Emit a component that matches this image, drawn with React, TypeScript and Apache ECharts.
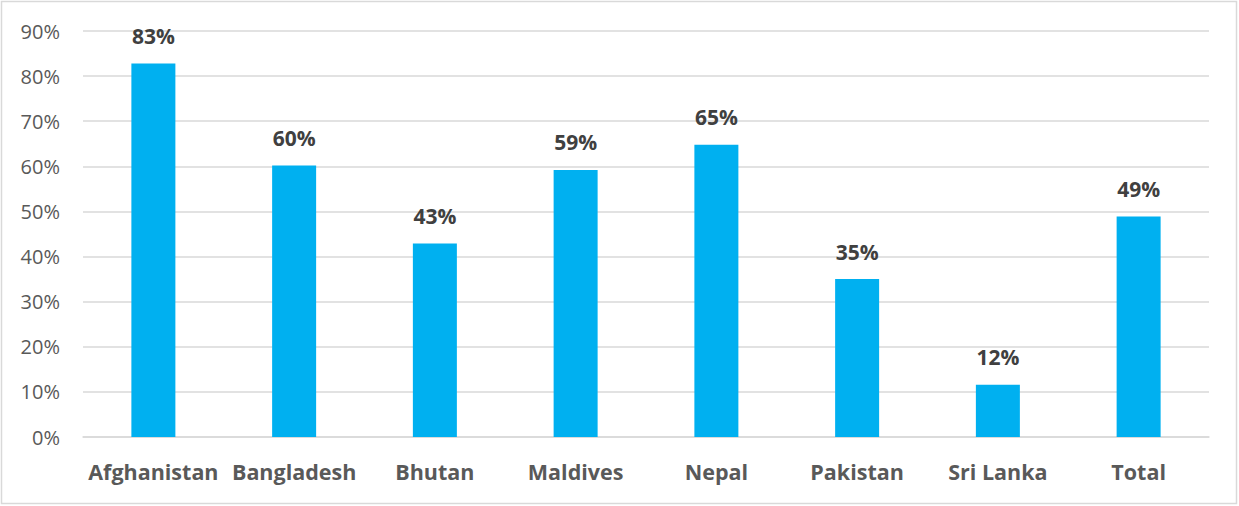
import React, { useEffect, useRef } from "react";
import * as echarts from "echarts";

const categories = ["Afghanistan", "Bangladesh", "Bhutan", "Maldives", "Nepal", "Pakistan", "Sri Lanka", "Total"];
const values = [82.8, 60.2, 42.9, 59.2, 64.8, 35.0, 11.6, 48.9];
const yTicks = [0, 10, 20, 30, 40, 50, 60, 70, 80, 90];

const FONT = "'Open Sans', 'Liberation Sans', sans-serif";

export default function App() {
  const ref = useRef<HTMLDivElement>(null);
  useEffect(() => {
    document.body.style.margin = "0";
    const chart = echarts.init(ref.current!, undefined, { renderer: "svg" });
    chart.setOption({
      animation: false,
      graphic: [
        {
          type: "rect",
          shape: { x: 1.5, y: 1.5, width: 1235, height: 502 },
          style: { fill: "none", stroke: "#d9d9d9", lineWidth: 1.5 },
          silent: true,
        },
      ],
      grid: { left: 83, right: 30, top: 31, bottom: 69 },
      xAxis: {
        type: "category",
        data: categories,
        axisTick: { show: false },
        axisLine: { lineStyle: { color: "#d9d9d9", width: 1.5 } },
        axisLabel: {
          color: "#595959",
          fontSize: 21.5,
          fontWeight: "bold",
          fontFamily: FONT,
          margin: 23,
          interval: 0,
        },
      },
      yAxis: {
        type: "value",
        min: yTicks[0],
        max: yTicks[yTicks.length - 1],
        interval: 10,
        axisLine: { show: false },
        axisTick: { show: false },
        splitLine: { lineStyle: { color: "#d9d9d9", width: 1.5 } },
        axisLabel: {
          color: "#595959",
          fontSize: 20,
          fontFamily: FONT,
          margin: 23,
          formatter: (v: number) => `${v}%`,
        },
      },
      series: [
        {
          type: "bar",
          data: values,
          barWidth: 44,
          itemStyle: { color: "#00b0f0" },
          label: {
            show: true,
            position: "top",
            distance: 17,
            color: "#404040",
            fontSize: 21,
            fontWeight: "bold",
            fontFamily: FONT,
            formatter: (p: any) => `${Math.round(p.value)}%`,
          },
        },
      ],
    });
    return () => chart.dispose();
  }, []);
  return <div ref={ref} style={{ width: 1239, height: 506 }} />;
}
